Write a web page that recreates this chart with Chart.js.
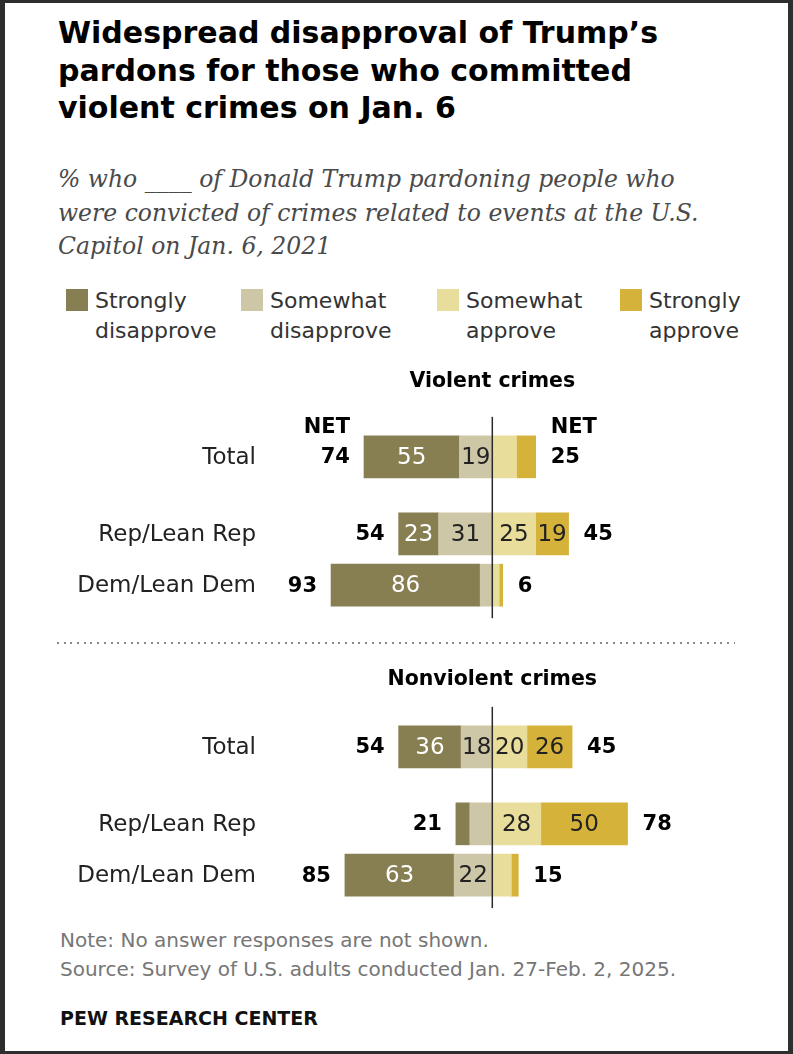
<!DOCTYPE html>
<html>
<head>
    <title>Widespread disapproval of Trump's pardons</title>
    <script src="https://cdn.jsdelivr.net/npm/chart.js"></script>
    <style>
        body {
            margin: 0;
            background-color: #fff;
        }
        .page {
            position: relative;
            width: 793px;
            height: 1054px;
            overflow: hidden;
            font-family: "DejaVu Sans", sans-serif;
            color: #222;
        }
        .frame {
            position: absolute;
            left: 0; top: 0; right: 0; bottom: 0;
            border-style: solid;
            border-color: #2e2e2e;
            border-width: 3px 5px 3px 5px;
            pointer-events: none;
        }
        .title {
            position: absolute;
            left: 58px;
            top: 14px;
            font-weight: bold;
            font-size: 30px;
            line-height: 37.5px;
            color: #000;
            white-space: nowrap;
        }
        .subtitle {
            position: absolute;
            left: 58px;
            top: 163px;
            font-family: "DejaVu Serif", serif;
            font-style: italic;
            font-size: 23.5px;
            line-height: 33.5px;
            color: #4a4a4a;
            white-space: nowrap;
        }
        .legend-item {
            position: absolute;
            top: 286px;
        }
        .legend-item .swatch {
            position: absolute;
            left: 0;
            top: 3px;
            width: 22px;
            height: 22px;
        }
        .legend-item .text {
            position: absolute;
            left: 29px;
            top: 0;
            font-size: 22px;
            line-height: 30px;
            color: #333;
            white-space: nowrap;
        }
        canvas {
            position: absolute;
            left: 0;
        }
        .divider {
            position: absolute;
            left: 57px;
            top: 642px;
            width: 678px;
            height: 2px;
            background: repeating-linear-gradient(to right, #8a8a8a 0 2px, transparent 2px 6.7px);
        }
        .note {
            position: absolute;
            left: 60px;
            font-size: 20px;
            line-height: 29px;
            color: #767676;
            white-space: nowrap;
        }
        .logo {
            position: absolute;
            left: 60px;
            top: 1004px;
            font-size: 19px;
            line-height: 28px;
            font-weight: bold;
            color: #111;
        }
    </style>
</head>
<body>
<div class="page">
    <div class="title">Widespread disapproval of Trump’s<br>pardons for those who committed<br>violent crimes on Jan. 6</div>
    <div class="subtitle">% who ____ of Donald Trump pardoning people who<br>were convicted of crimes related to events at the U.S.<br>Capitol on Jan. 6, 2021</div>

    <div id="legend"></div>

    <canvas id="violentChart" width="793" height="270" style="top:360px"></canvas>
    <div class="divider"></div>
    <canvas id="nonviolentChart" width="793" height="270" style="top:650px"></canvas>

    <div class="note" style="top:926px">Note: No answer responses are not shown.</div>
    <div class="note" style="top:955px">Source: Survey of U.S. adults conducted Jan. 27-Feb. 2, 2025.</div>
    <div class="logo">PEW RESEARCH CENTER</div>
    <div class="frame"></div>
</div>

<script>
    // survey groups (rows of each panel)
    const categories = ['Total', 'Rep/Lean Rep', 'Dem/Lean Dem'];

    // legend
    const seriesNames = ['Strongly\ndisapprove', 'Somewhat\ndisapprove', 'Somewhat\napprove', 'Strongly\napprove'];
    const seriesColors = ['#877f52', '#cdc7a8', '#e9dd9b', '#d5b33b'];

    // violent crimes
    const violentStrongDis = [55, 23, 86];
    const violentSomeDis = [19, 31, 7];
    const violentSomeApp = [14, 25, 4];
    const violentStrongApp = [11, 19, 2];
    const violentNetDis = [74, 54, 93];
    const violentNetApp = [25, 45, 6];

    // nonviolent crimes
    const nonviolentStrongDis = [36, 8, 63];
    const nonviolentSomeDis = [18, 13, 22];
    const nonviolentSomeApp = [20, 28, 11];
    const nonviolentStrongApp = [26, 50, 4];
    const nonviolentNetDis = [54, 21, 85];
    const nonviolentNetApp = [45, 78, 15];

    Chart.defaults.font.family = '"DejaVu Sans", sans-serif';

    // build legend
    const legendLeft = [66, 241, 437, 620];
    const legendEl = document.getElementById('legend');
    seriesNames.forEach((name, i) => {
        const item = document.createElement('div');
        item.className = 'legend-item';
        item.style.left = legendLeft[i] + 'px';
        item.innerHTML = '<div class="swatch" style="background:' + seriesColors[i] + '"></div>' +
            '<div class="text">' + name.replace('\n', '<br>') + '</div>';
        legendEl.appendChild(item);
    });

    // Total sits apart from the two party rows: slots 0, 3, 5 of 6
    const rowSlots = [0, 3, 5];
    const slotCount = 6;

    function spread(values, sign) {
        const out = new Array(slotCount).fill(null);
        values.forEach((v, i) => { out[rowSlots[i]] = v * sign; });
        return out;
    }

    const divergePlugin = {
        id: 'diverge',
        afterDatasetsDraw(chart, args, opts) {
            const ctx = chart.ctx;
            const xs = chart.scales.x;
            const ys = chart.scales.y;
            const zero = xs.getPixelForValue(0);
            const half = 21;
            const firstY = ys.getPixelForValue(rowSlots[0]);
            const lastY = ys.getPixelForValue(rowSlots[rowSlots.length - 1]);
            ctx.save();

            // center line
            ctx.strokeStyle = '#2a2a2a';
            ctx.lineWidth = 1.5;
            ctx.beginPath();
            ctx.moveTo(zero, firstY - half - 19);
            ctx.lineTo(zero, lastY + half + 12);
            ctx.stroke();

            // values inside segments
            ctx.font = '23px "DejaVu Sans"';
            ctx.textAlign = 'center';
            ctx.textBaseline = 'middle';
            chart.data.datasets.forEach((ds, di) => {
                chart.getDatasetMeta(di).data.forEach((bar, i) => {
                    const v = ds.data[i];
                    if (v == null || Math.abs(v) < 15) return;
                    ctx.fillStyle = ds.labelColor;
                    ctx.fillText(Math.abs(v), (bar.x + bar.base) / 2, bar.y + 1);
                });
            });

            // group labels
            ctx.fillStyle = '#222';
            ctx.textAlign = 'right';
            categories.forEach((c, i) => {
                ctx.fillText(c, 256, ys.getPixelForValue(rowSlots[i]) + 1);
            });

            // NET values
            ctx.font = 'bold 21px "DejaVu Sans"';
            ctx.fillStyle = '#000';
            let leftNetX = 0, rightNetX = 0;
            categories.forEach((c, i) => {
                const yy = ys.getPixelForValue(rowSlots[i]) + 1;
                const lx = xs.getPixelForValue(-(opts.sd[i] + opts.sod[i])) - 14;
                const rx = xs.getPixelForValue(opts.soa[i] + opts.sa[i]) + 15;
                ctx.textAlign = 'right';
                ctx.fillText(opts.netDis[i], lx, yy);
                ctx.textAlign = 'left';
                ctx.fillText(opts.netApp[i], rx, yy);
                if (i === 0) { leftNetX = lx; rightNetX = rx; }
            });
            if (opts.netHead) {
                ctx.textAlign = 'right';
                ctx.fillText('NET', leftNetX, firstY - 29);
                ctx.textAlign = 'left';
                ctx.fillText('NET', rightNetX, firstY - 29);
            }

            // panel heading
            ctx.font = 'bold 20.5px "DejaVu Sans"';
            ctx.textAlign = 'center';
            ctx.fillText(opts.heading, zero, firstY - opts.headOffset);
            ctx.restore();
        }
    };

    function buildPanel(canvasId, heading, headOffset, netHead, sd, sod, soa, sa, netDis, netApp) {
        const pxPerPoint = 1.734;
        const zeroPx = 492.3;
        new Chart(document.getElementById(canvasId).getContext('2d'), {
            type: 'bar',
            data: {
                labels: new Array(slotCount).fill(''),
                datasets: [
                    { label: 'Somewhat disapprove', data: spread(sod, -1), backgroundColor: seriesColors[1], labelColor: '#222' },
                    { label: 'Strongly disapprove', data: spread(sd, -1), backgroundColor: seriesColors[0], labelColor: '#fff' },
                    { label: 'Somewhat approve', data: spread(soa, 1), backgroundColor: seriesColors[2], labelColor: '#222' },
                    { label: 'Strongly approve', data: spread(sa, 1), backgroundColor: seriesColors[3], labelColor: '#222' }
                ]
            },
            options: {
                indexAxis: 'y',
                responsive: false,
                animation: false,
                devicePixelRatio: 1,
                barThickness: 42,
                borderWidth: 0,
                clip: false,
                layout: { padding: { top: 84, bottom: 32, left: 0, right: 0 } },
                scales: {
                    x: {
                        stacked: true,
                        display: false,
                        min: -zeroPx / pxPerPoint,
                        max: (793 - zeroPx) / pxPerPoint
                    },
                    y: { stacked: true, display: false }
                },
                plugins: {
                    legend: { display: false },
                    tooltip: { enabled: false },
                    diverge: {
                        heading: heading, headOffset: headOffset, netHead: netHead,
                        sd: sd, sod: sod, soa: soa, sa: sa, netDis: netDis, netApp: netApp
                    }
                }
            },
            plugins: [divergePlugin]
        });
    }

    buildPanel('violentChart', 'Violent crimes', 75, true,
        violentStrongDis, violentSomeDis, violentSomeApp, violentStrongApp, violentNetDis, violentNetApp);
    buildPanel('nonviolentChart', 'Nonviolent crimes', 67, false,
        nonviolentStrongDis, nonviolentSomeDis, nonviolentSomeApp, nonviolentStrongApp, nonviolentNetDis, nonviolentNetApp);
</script>
</body>
</html>
